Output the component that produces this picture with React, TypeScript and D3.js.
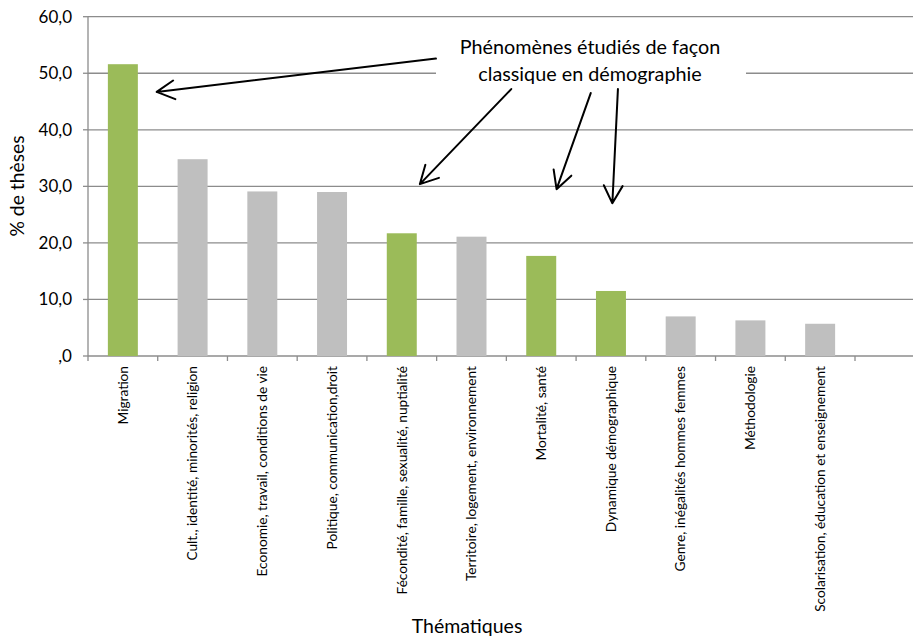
import * as d3 from 'd3';
import React from 'react';

const categories = [
  'Migration',
  'Cult., identité, minorités, religion',
  'Economie, travail, conditions de vie',
  'Politique, communication,droit',
  'Fécondité, famille, sexualité, nuptialité',
  'Territoire, logement, environnement',
  'Mortalité, santé',
  'Dynamique démographique',
  'Genre, inégalités hommes femmes',
  'Méthodologie',
  'Scolarisation, éducation et enseignement',
];
const values = [51.6, 34.8, 29.1, 29.0, 21.7, 21.1, 17.7, 11.5, 7.0, 6.3, 5.7];
// thématiques "classiques" en démographie (barres vertes)
const classic = [true, false, false, false, true, false, true, true, false, false, false];
const yTicks = [0, 10, 20, 30, 40, 50, 60];

const noteLines = ['Phénomènes étudiés de façon', 'classique en démographie'];
// flèches en unités (position de catégorie, valeur)
const arrowFrom = [[4.99, 52.6], [6.07, 47.2], [7.21, 46.5], [7.6, 47.2]];
const arrowTo = [[0.985, 46.7], [4.76, 30.4], [6.72, 29.5], [7.52, 27.0]];

const W = 915;
const H = 641;
const left = 88;
const lastTick = 855;
const right = 913;
const top = 16.7;
const bottom = 356;
const font = 'Lato, "Open Sans", sans-serif';

export default function App() {
  const x = d3.scaleBand<string>()
    .domain(categories)
    .range([left, lastTick])
    .paddingInner(0.57)
    .paddingOuter(0.285);
  const step = x.step();
  const slot = d3.scaleLinear().domain([0, categories.length]).range([left, lastTick]);
  const y = d3.scaleLinear().domain([0, 60]).range([bottom, top]);
  const fmt = (v: number) => (v === 0 ? ',0' : v.toFixed(1).replace('.', ','));

  const grid = '#8c8c8c';
  const arrows = arrowFrom.map((f, i) => {
    const x1 = slot(f[0]), y1 = y(f[1]);
    const x2 = slot(arrowTo[i][0]), y2 = y(arrowTo[i][1]);
    const a = Math.atan2(y1 - y2, x1 - x2);
    const len = 20, sp = (28 * Math.PI) / 180;
    const b1 = [x2 + len * Math.cos(a + sp), y2 + len * Math.sin(a + sp)];
    const b2 = [x2 + len * Math.cos(a - sp), y2 + len * Math.sin(a - sp)];
    return `M${x1},${y1}L${x2},${y2}M${b1[0]},${b1[1]}L${x2},${y2}L${b2[0]},${b2[1]}`;
  });

  return (
    <svg width={W} height={H} style={{ position: 'absolute', left: 0, top: 0, background: '#fff' }}>
      {/* grille */}
      {yTicks.filter(t => t > 0).map(t => (
        <line key={t} x1={left} x2={right} y1={y(t)} y2={y(t)} stroke={grid} strokeWidth={1.3} />
      ))}
      {/* axes */}
      <line x1={left} x2={left} y1={top} y2={bottom} stroke={grid} strokeWidth={1.3} />
      <line x1={left} x2={right} y1={bottom} y2={bottom} stroke={grid} strokeWidth={1.3} />
      {yTicks.map(t => (
        <g key={t}>
          <line x1={left - 5} x2={left} y1={y(t)} y2={y(t)} stroke={grid} strokeWidth={1.3} />
          <text x={72} y={y(t)} dy="0.35em" textAnchor="end" fontFamily={font} fontSize={17} fill="#000">
            {fmt(t)}
          </text>
        </g>
      ))}
      {d3.range(categories.length + 1).map(i => (
        <line key={i} x1={left + i * step} x2={left + i * step} y1={bottom} y2={bottom + 5} stroke={grid} strokeWidth={1.3} />
      ))}
      {/* barres */}
      {categories.map((c, i) => (
        <rect key={c} x={x(c)} y={y(values[i])} width={x.bandwidth()} height={y(0) - y(values[i])}
          fill={classic[i] ? '#9bbb59' : '#bfbfbf'} />
      ))}
      {/* libellés des catégories */}
      {categories.map(c => {
        const cx = (x(c) as number) + x.bandwidth() / 2;
        return (
          <text key={c} transform={`translate(${cx},366) rotate(-90)`} dy="0.35em" textAnchor="end"
            fontFamily={font} fontSize={13.7} fill="#000">{c}</text>
        );
      })}
      {/* titres */}
      <text transform="translate(24,186) rotate(-90)" textAnchor="middle" fontFamily={font} fontSize={19.3} fill="#000">
        % de thèses
      </text>
      <text x={467} y={633} textAnchor="middle" fontFamily={font} fontSize={19.5} fill="#000">Thématiques</text>
      {/* annotation */}
      <rect x={436} y={34} width={310} height={54} fill="#fff" />
      {noteLines.map((l, i) => (
        <text key={l} x={590} y={54.3 + i * 27} textAnchor="middle" fontFamily={font} fontSize={19.8} fill="#000">{l}</text>
      ))}
      {arrows.map((d, i) => (
        <path key={i} d={d} fill="none" stroke="#000" strokeWidth={2} strokeLinecap="round" strokeLinejoin="round" />
      ))}
    </svg>
  );
}
